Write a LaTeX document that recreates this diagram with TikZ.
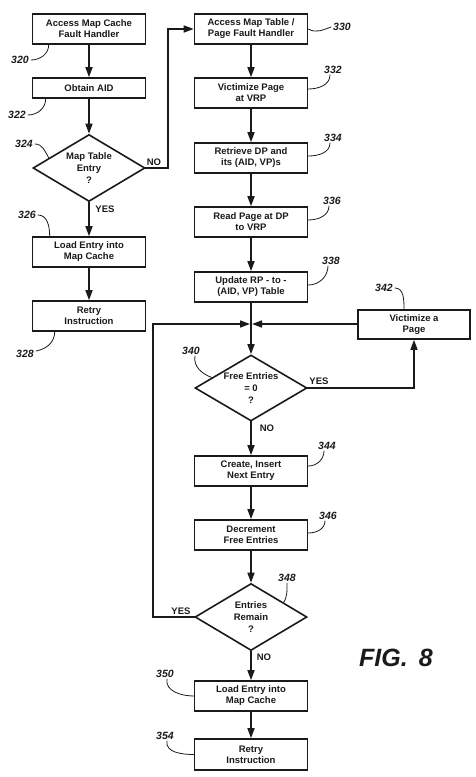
\documentclass[tikz,border=0pt]{standalone}
\usepackage{fontspec}
\setmainfont{Liberation Sans}
\usetikzlibrary{shapes.geometric,arrows.meta}

\begin{document}
\begin{tikzpicture}[x=1pt,y=-1pt,line cap=rect,
    stepbox/.style={draw=custcol_1a_1a_1a, line width=1.6pt, inner sep=0pt, minimum width=113pt, minimum height=30pt, align=center, text=custcol_1a_1a_1a, font=\fontsize{9.5}{11}\selectfont\bfseries},
    testbox/.style={draw=custcol_1a_1a_1a, line width=1.6pt, diamond, aspect=1.65, inner sep=0pt, minimum width=112pt, minimum height=67pt, align=center, text=custcol_1a_1a_1a, font=\fontsize{9.5}{12}\selectfont\bfseries},
    refnum/.style={inner sep=0pt, text=custcol_1a_1a_1a, font=\fontsize{10.5}{10.5}\selectfont\bfseries\itshape},
    branch/.style={inner sep=0pt, text=custcol_1a_1a_1a, font=\fontsize{9.5}{9.5}\selectfont\bfseries},
    flow/.style={draw=custcol_1a_1a_1a, line width=1.6pt, -{Triangle[length=10pt,width=7pt]}},
    leader/.style={draw=custcol_1a_1a_1a, line width=0.8pt, line cap=round}]
\useasboundingbox (0,0) rectangle (476,777);
\definecolor{custcol_1a_1a_1a}{RGB}{26, 26, 26}
\node[stepbox] (b320) at (89,29) {Access Map Cache\\Fault Handler};
\node[stepbox, minimum height=20pt] (b322) at (89,88) {Obtain AID};
\node[testbox] (d324) at (89,168) {Map Table\\Entry\\?};
\node[stepbox] (b326) at (89,252) {Load Entry into\\Map Cache};
\node[stepbox] (b328) at (89,316) {Retry\\Instruction};
\node[stepbox] (b330) at (251,29) {Access Map Table /\\Page Fault Handler};
\node[stepbox] (b332) at (251,93) {Victimize Page\\at VRP};
\node[stepbox] (b334) at (251,158) {Retrieve DP and\\its (AID, VP)s};
\node[stepbox] (b336) at (251,222) {Read Page at DP\\to VRP};
\node[stepbox] (b338) at (251,287) {Update RP - to -\\(AID, VP) Table};
\coordinate (j) at (251,324);
\node[stepbox, minimum width=112pt, minimum height=29pt] (b342) at (414,324.5) {Victimize a\\Page};
\node[testbox, minimum height=66pt] (d340) at (251,388) {Free Entries\\= 0\\?};
\node[stepbox] (b344) at (251,471) {Create, Insert\\Next Entry};
\node[stepbox] (b346) at (251,535) {Decrement\\Free Entries};
\node[testbox] (d348) at (251,617) {Entries\\Remain\\?};
\node[stepbox] (b350) at (251,696) {Load Entry into\\Map Cache};
\node[stepbox, minimum height=31pt] (b354) at (251,754.5) {Retry\\Instruction};
\coordinate (nocorner) at (168,168);
\coordinate (loopcorner) at (153,617);
\draw[flow] (b320.south) -- (b322.north);
\draw[flow] (b322.south) -- (d324.north);
\draw[flow] (d324.south) -- (b326.north);
\draw[flow] (b326.south) -- (b328.north);
\draw[flow] (d324.east) -- (nocorner) |- (b330.west);
\draw[flow] (b330.south) -- (b332.north);
\draw[flow] (b332.south) -- (b334.north);
\draw[flow] (b334.south) -- (b336.north);
\draw[flow] (b336.south) -- (b338.north);
\draw[flow] (b338.south) -- (d340.north);
\draw[flow, shorten >=1pt] (b342.west |- j) -- (j);
\draw[flow] (d340.east) -| (b342.south);
\draw[flow] (d340.south) -- (b344.north);
\draw[flow] (b344.south) -- (b346.north);
\draw[flow] (b346.south) -- (d348.north);
\draw[flow, shorten >=1pt] (d348.west) -- (loopcorner) |- (j);
\draw[flow] (d348.south) -- (b350.north);
\draw[flow] (b350.south) -- (b354.north);
\node[branch] (no324) at (154,162) {NO};
\node[branch] (yes324) at (105,209) {YES};
\node[branch] (yes340) at (319,381) {YES};
\node[branch] (no340) at (267,428) {NO};
\node[branch] (yes348) at (181,611) {YES};
\node[branch] (no348) at (264,657) {NO};
\node[refnum] (n320) at (20,60) {320};
\node[refnum] (n322) at (17,115) {322};
\node[refnum] (n324) at (24,144) {324};
\node[refnum] (n326) at (27,215) {326};
\node[refnum] (n328) at (25,354) {328};
\node[refnum] (n330) at (342,27) {330};
\node[refnum] (n332) at (333,70) {332};
\node[refnum] (n334) at (333,138) {334};
\node[refnum] (n336) at (332,201) {336};
\node[refnum] (n338) at (331,261) {338};
\node[refnum] (n342) at (384,288) {342};
\node[refnum] (n340) at (191,351) {340};
\node[refnum] (n344) at (327,446) {344};
\node[refnum] (n346) at (328,516) {346};
\node[refnum] (n348) at (287,578) {348};
\node[refnum] (n350) at (165,674) {350};
\node[refnum] (n354) at (165,736) {354};
\draw[leader] ([xshift=2pt]n320.east) to[out=0,in=-90] ([xshift=17pt]b320.south west);
\draw[leader] ([xshift=2pt]n322.east) to[out=0,in=-90] ([xshift=14pt]b322.south west);
\draw[leader] ([xshift=2pt]n324.east) to[out=0,in=120] (d324.166);
\draw[leader] ([xshift=2pt]n326.east) to[out=0,in=90] ([xshift=18pt]b326.north west);
\draw[leader] ([xshift=2pt,yshift=3pt]n328.east) to[out=10,in=-90] ([xshift=23pt]b328.south west);
\draw[leader] (b330.east) to[out=-30,in=200] ([xshift=-2pt]n330.west);
\draw[leader] ([yshift=4pt]b332.east) to[out=0,in=-90] ([xshift=-3pt,yshift=-1pt]n332.south);
\draw[leader] ([yshift=2pt]b334.east) to[out=0,in=-90] ([xshift=-3pt,yshift=-1pt]n334.south);
\draw[leader] ([yshift=2pt]b336.east) to[out=0,in=-90] ([xshift=-3pt,yshift=-1pt]n336.south);
\draw[leader] ([yshift=2pt]b338.east) to[out=0,in=-90] ([xshift=-3pt,yshift=-1pt]n338.south);
\draw[leader] ([xshift=2pt]n342.east) to[out=0,in=90] ([xshift=-10pt]b342.north);
\draw[leader] ([xshift=4pt,yshift=-1pt]n340.south) to[out=-100,in=160] (d340.165);
\draw[leader] ([yshift=5pt]b344.east) to[out=0,in=-90] ([xshift=-3pt,yshift=-1pt]n344.south);
\draw[leader] ([yshift=2pt]b346.east) to[out=0,in=-90] ([xshift=-3pt,yshift=-1pt]n346.south);
\draw[leader] ([yshift=-1pt]n348.south) to[out=-90,in=60] (d348.24);
\draw[leader] ([xshift=2pt,yshift=-1pt]n350.south) to[out=-100,in=180] (b350.west);
\draw[leader] ([xshift=2pt,yshift=-1pt]n354.south) to[out=-100,in=180] (b354.west);
\node[inner sep=0pt, text=custcol_1a_1a_1a, font=\fontsize{25}{25}\selectfont\bfseries\itshape] (figlabel) at (396,658) {FIG.\hspace{0.45em}8};
\end{tikzpicture}
\end{document}
